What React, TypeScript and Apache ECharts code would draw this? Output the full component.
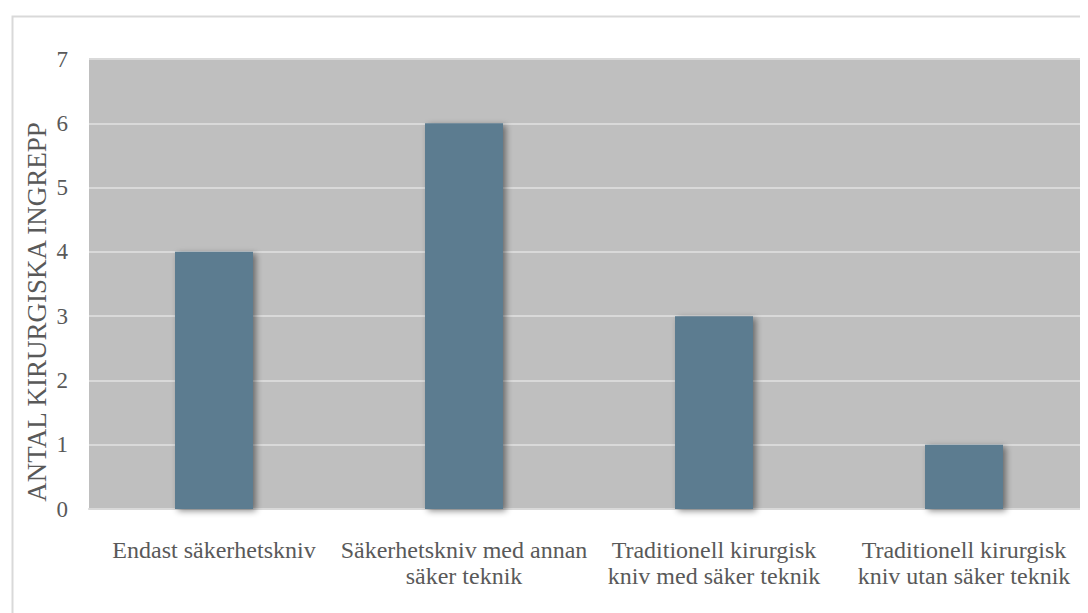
import React, { useEffect, useRef } from "react";
import * as echarts from "echarts";

const categories = [
  "Endast säkerhetskniv",
  "Säkerhetskniv med annan\nsäker teknik",
  "Traditionell kirurgisk\nkniv med säker teknik",
  "Traditionell kirurgisk\nkniv utan säker teknik",
];
const values = [4, 6, 3, 1];
const yTicks = [0, 1, 2, 3, 4, 5, 6, 7];
const yAxisTitle = "ANTAL KIRURGISKA INGREPP";

const FONT = '"Liberation Serif", "Times New Roman", serif';

export default function App() {
  const ref = useRef<HTMLDivElement>(null);
  useEffect(() => {
    if (!ref.current) return;
    const chart = echarts.init(ref.current, undefined, { renderer: "svg" });
    chart.setOption({
      animation: false,
      backgroundColor: "#ffffff",
      graphic: [
        {
          type: "rect",
          left: 2,
          top: 6,
          shape: { width: 1200, height: 800 },
          style: { fill: "none", stroke: "#d9d9d9", lineWidth: 2 },
          silent: true,
        },
        {
          type: "text",
          x: 29,
          y: 304,
          rotation: Math.PI / 2,
          silent: true,
          style: {
            text: yAxisTitle,
            fontFamily: FONT,
            fontSize: 27,
            fill: "#595959",
            align: "center",
            verticalAlign: "middle",
          },
        },
      ],
      grid: {
        left: 81,
        right: -1,
        top: 51,
        bottom: 104,
        show: true,
        backgroundColor: "#bfbfbf",
        borderWidth: 0,
        containLabel: false,
        outerBoundsMode: "none",
      },
      xAxis: {
        type: "category",
        data: categories,
        axisLine: { show: true, lineStyle: { color: "#d9d9d9", width: 2 } },
        axisTick: { show: false },
        axisLabel: {
          interval: 0,
          margin: 28,
          fontFamily: FONT,
          fontSize: 24,
          lineHeight: 26,
          color: "#595959",
          align: "center",
        },
      },
      yAxis: {
        type: "value",
        min: yTicks[0],
        max: yTicks[yTicks.length - 1],
        interval: 1,
        axisLine: { show: false },
        axisTick: { show: false },
        splitLine: { show: true, lineStyle: { color: "#d9d9d9", width: 2 } },
        axisLabel: {
          margin: 21,
          fontFamily: FONT,
          fontSize: 23,
          color: "#595959",
        },
      },
      series: [
        {
          type: "bar",
          data: values,
          barWidth: 78,
          itemStyle: {
            color: "#5b7b90",
            shadowBlur: 6,
            shadowColor: "rgba(0,0,0,0.45)",
            shadowOffsetX: 3,
            shadowOffsetY: 2,
          },
        },
      ],
    });
    return () => chart.dispose();
  }, []);
  return <div ref={ref} style={{ width: 1080, height: 605 }} />;
}
